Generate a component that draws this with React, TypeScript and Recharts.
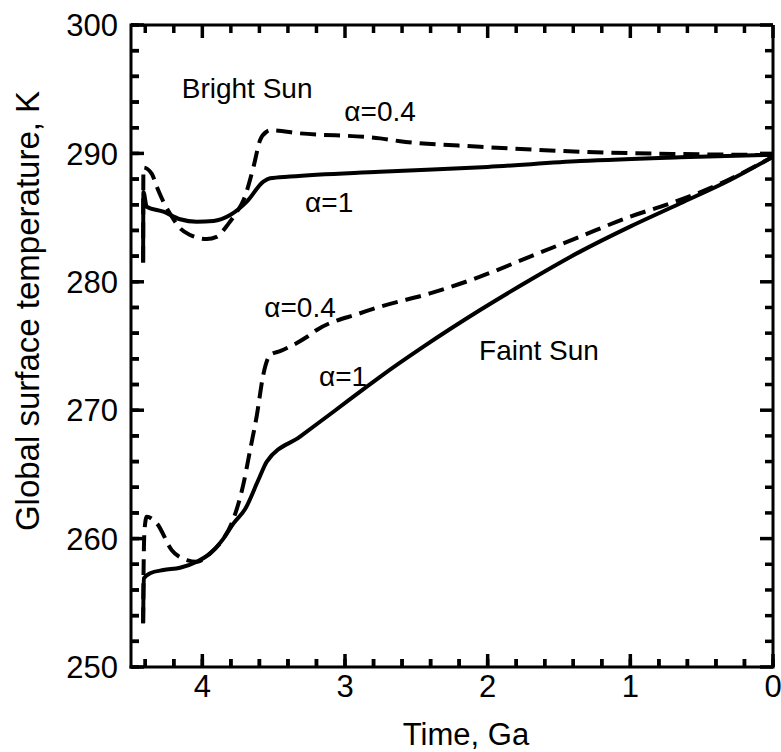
import React from "react";
import { LineChart, Line, XAxis, YAxis, ReferenceDot, ReferenceLine, Label } from "recharts";

const FONT = '"Liberation Sans", Arial, Helvetica, sans-serif';

// time (Ga before present) vs global surface temperature (K)
const brightAlpha1 = [
  { t: 4.415, temp: 281.5 },
  { t: 4.413, temp: 287.0 },
  { t: 4.39, temp: 285.85 },
  { t: 4.273, temp: 285.46 },
  { t: 4.156, temp: 284.87 },
  { t: 4.039, temp: 284.68 },
  { t: 3.922, temp: 284.74 },
  { t: 3.805, temp: 285.2 },
  { t: 3.688, temp: 286.24 },
  { t: 3.572, temp: 287.8 },
  { t: 3.525, temp: 288.06 },
  { t: 3.385, temp: 288.2 },
  { t: 2.754, temp: 288.57 },
  { t: 2.0, temp: 288.95 },
  { t: 1.352, temp: 289.4 },
  { t: 0.652, temp: 289.7 },
  { t: 0, temp: 289.9 },
];

const brightAlpha04 = [
  { t: 4.415, temp: 281.5 },
  { t: 4.413, temp: 288.9 },
  { t: 4.354, temp: 288.4 },
  { t: 4.319, temp: 287.4 },
  { t: 4.273, temp: 286.24 },
  { t: 4.226, temp: 285.3 },
  { t: 4.156, temp: 284.17 },
  { t: 4.085, temp: 283.64 },
  { t: 3.969, temp: 283.33 },
  { t: 3.9, temp: 283.5 },
  { t: 3.815, temp: 284.55 },
  { t: 3.757, temp: 285.46 },
  { t: 3.711, temp: 286.37 },
  { t: 3.641, temp: 288.97 },
  { t: 3.595, temp: 291.04 },
  { t: 3.548, temp: 291.7 },
  { t: 3.525, temp: 291.8 },
  { t: 3.315, temp: 291.56 },
  { t: 2.754, temp: 291.17 },
  { t: 2.614, temp: 290.95 },
  { t: 2.053, temp: 290.52 },
  { t: 1.352, temp: 290.13 },
  { t: 0.652, temp: 289.95 },
  { t: 0, temp: 289.87 },
];

const faintAlpha1 = [
  { t: 4.415, temp: 253.4 },
  { t: 4.41, temp: 256.9 },
  { t: 4.366, temp: 257.3 },
  { t: 4.273, temp: 257.55 },
  { t: 4.156, temp: 257.73 },
  { t: 4.039, temp: 258.2 },
  { t: 3.945, temp: 258.85 },
  { t: 3.852, temp: 260.0 },
  { t: 3.78, temp: 261.2 },
  { t: 3.7, temp: 262.3 },
  { t: 3.606, temp: 264.6 },
  { t: 3.548, temp: 266.0 },
  { t: 3.315, temp: 267.94 },
  { t: 3.081, temp: 269.88 },
  { t: 2.847, temp: 271.83 },
  { t: 2.754, temp: 272.6 },
  { t: 2.45, temp: 274.95 },
  { t: 2.053, temp: 277.8 },
  { t: 1.703, temp: 280.14 },
  { t: 1.352, temp: 282.35 },
  { t: 1.002, temp: 284.3 },
  { t: 0.652, temp: 286.1 },
  { t: 0.301, temp: 287.93 },
  { t: 0, temp: 289.74 },
];

const faintAlpha04 = [
  { t: 4.415, temp: 253.4 },
  { t: 4.412, temp: 257.4 },
  { t: 4.405, temp: 260.7 },
  { t: 4.39, temp: 261.7 },
  { t: 4.32, temp: 261.2 },
  { t: 4.214, temp: 259.1 },
  { t: 4.109, temp: 258.33 },
  { t: 4.039, temp: 258.2 },
  { t: 3.945, temp: 258.85 },
  { t: 3.852, temp: 260.0 },
  { t: 3.794, temp: 261.2 },
  { t: 3.711, temp: 264.3 },
  { t: 3.665, temp: 266.9 },
  { t: 3.618, temp: 269.6 },
  { t: 3.572, temp: 272.8 },
  { t: 3.525, temp: 274.3 },
  { t: 3.455, temp: 274.6 },
  { t: 3.268, temp: 275.7 },
  { t: 3.198, temp: 276.25 },
  { t: 2.894, temp: 277.55 },
  { t: 2.754, temp: 278.06 },
  { t: 2.404, temp: 279.1 },
  { t: 2.053, temp: 280.4 },
  { t: 1.703, temp: 281.96 },
  { t: 1.352, temp: 283.52 },
  { t: 1.002, temp: 285.07 },
  { t: 0.722, temp: 286.1 },
  { t: 0.418, temp: 287.4 },
  { t: 0, temp: 289.74 },
];

const xMajor = [0, 1, 2, 3, 4];
const xTicks = [0, 0.2, 0.4, 0.6, 0.8, 1, 1.2, 1.4, 1.6, 1.8, 2, 2.2, 2.4, 2.6, 2.8, 3, 3.2, 3.4, 3.6, 3.8, 4, 4.2, 4.4];
const yMajor = [250, 260, 270, 280, 290, 300];
const yTicks = [250, 252, 254, 256, 258, 260, 262, 264, 266, 268, 270, 272, 274, 276, 278, 280, 282, 284, 286, 288, 290, 292, 294, 296, 298, 300];

const annotations = [
  { text: "Bright Sun", t: 3.686, temp: 295.1 },
  { text: "α=0.4", t: 2.754, temp: 293.3 },
  { text: "α=1", t: 3.111, temp: 286.2 },
  { text: "α=0.4", t: 3.315, temp: 278.0 },
  { text: "α=1", t: 3.013, temp: 272.66 },
  { text: "Faint Sun", t: 1.64, temp: 274.7 },
];

const X_MIN = 0;
const X_MAX = 4.5;
const Y_MIN = 250;
const Y_MAX = 300;
const PLOT = 642; // plot area is 642 x 642 px

// inward tick lengths in px
const MAJOR_PX = 13;
const MINOR_PX = 8;
const yLen = (px: number) => (px * (Y_MAX - Y_MIN)) / PLOT;
const xLen = (px: number) => (px * (X_MAX - X_MIN)) / PLOT;

// axis draws the short inward tick itself (negative size); y / x arrive shifted by it
const BottomTick = (props: any) => {
  const { x, y, payload } = props;
  if (!xMajor.includes(payload.value)) return <g />;
  return (
    <text x={x} y={y + MINOR_PX + 30} textAnchor="middle" fontSize={31} fontFamily={FONT} fill="#000">
      {payload.value}
    </text>
  );
};

const LeftTick = (props: any) => {
  const { x, y, payload } = props;
  if (!yMajor.includes(payload.value)) return <g />;
  return (
    <text x={x - MINOR_PX - 13} y={y} dy="0.36em" textAnchor="end" fontSize={31} fontFamily={FONT} fill="#000">
      {payload.value}
    </text>
  );
};

const axisLine = { stroke: "#000", strokeWidth: 3, strokeLinecap: "square" as const };
const tickLine = { stroke: "#000", strokeWidth: 3.5 };

function tickSegments() {
  const segs: { x1: number; y1: number; x2: number; y2: number }[] = [];
  xTicks.forEach((v) => {
    const l = yLen(xMajor.includes(v) ? MAJOR_PX : MINOR_PX);
    segs.push({ x1: v, y1: Y_MIN, x2: v, y2: Y_MIN + l });
    segs.push({ x1: v, y1: Y_MAX, x2: v, y2: Y_MAX - l });
  });
  yTicks.forEach((v) => {
    const l = xLen(yMajor.includes(v) ? MAJOR_PX : MINOR_PX);
    segs.push({ x1: X_MAX, y1: v, x2: X_MAX - l, y2: v });
    segs.push({ x1: X_MIN, y1: v, x2: X_MIN + l, y2: v });
  });
  return segs;
}

export default function App() {
  return (
    <div style={{ position: "absolute", left: 0, top: 0, width: 781, height: 752, background: "#fff" }}>
      <LineChart width={781} height={752} margin={{ top: 25, right: 8, bottom: 0, left: 0 }}>
        <XAxis
          dataKey="t"
          type="number"
          domain={[X_MIN, X_MAX]}
          reversed
          ticks={xTicks}
          interval={0}
          tickSize={-MINOR_PX}
          tickMargin={0}
          tickLine={tickLine}
          axisLine={axisLine}
          tick={<BottomTick />}
          height={85}
        >
          <Label
            content={({ viewBox }: any) => (
              <text
                x={viewBox.x + viewBox.width / 2 + 14}
                y={viewBox.y + 78}
                textAnchor="middle"
                fontSize={31}
                fontFamily={FONT}
                fill="#000"
              >
                Time, Ga
              </text>
            )}
          />
        </XAxis>
        <YAxis
          type="number"
          domain={[Y_MIN, Y_MAX]}
          ticks={yTicks}
          interval={0}
          tickSize={-MINOR_PX}
          tickMargin={0}
          tickLine={tickLine}
          axisLine={axisLine}
          tick={<LeftTick />}
          width={131}
        >
          <Label
            content={({ viewBox }: any) => {
              const cx = viewBox.x + 27;
              const cy = viewBox.y + viewBox.height / 2 - 35;
              return (
                <text
                  x={cx}
                  y={cy}
                  dy="0.36em"
                  transform={`rotate(-90, ${cx}, ${cy})`}
                  textAnchor="middle"
                  fontSize={33}
                  fontFamily={FONT}
                  fill="#000"
                >
                  Global surface temperature, K
                </text>
              );
            }}
          />
        </YAxis>

        {/* top and right frame */}
        <ReferenceLine y={Y_MAX} stroke="#000" strokeWidth={3} ifOverflow="visible" />
        <ReferenceLine x={X_MIN} stroke="#000" strokeWidth={3} ifOverflow="visible" />

        {tickSegments().map((s, i) => (
          <ReferenceLine
            key={`tick-${i}`}
            segment={[
              { x: s.x1, y: s.y1 },
              { x: s.x2, y: s.y2 },
            ]}
            stroke="#000"
            strokeWidth={3.5}
            ifOverflow="visible"
          />
        ))}

        <Line data={brightAlpha1} dataKey="temp" type="monotone" stroke="#000" strokeWidth={4} dot={false} activeDot={false} isAnimationActive={false} />
        <Line data={brightAlpha04} dataKey="temp" type="monotone" stroke="#000" strokeWidth={4} strokeDasharray="16 8" dot={false} activeDot={false} isAnimationActive={false} />
        <Line data={faintAlpha1} dataKey="temp" type="monotone" stroke="#000" strokeWidth={4} dot={false} activeDot={false} isAnimationActive={false} />
        <Line data={faintAlpha04} dataKey="temp" type="monotone" stroke="#000" strokeWidth={4} strokeDasharray="16 8" dot={false} activeDot={false} isAnimationActive={false} />

        {annotations.map((a, i) => (
          <ReferenceDot
            key={i}
            x={a.t}
            y={a.temp}
            r={0}
            fill="none"
            stroke="none"
            label={{ value: a.text, position: "center", fontSize: 28, fontFamily: FONT, fill: "#000" }}
          />
        ))}
      </LineChart>
    </div>
  );
}
